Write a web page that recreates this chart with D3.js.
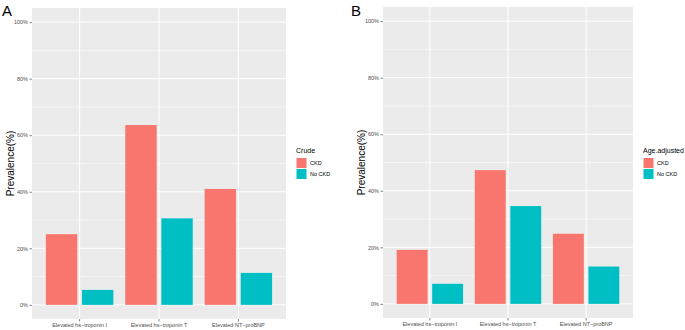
<!DOCTYPE html>
<html>
<head>
<meta charset="utf-8">
<script src="https://cdn.jsdelivr.net/npm/d3@7"></script>
<style>
  body { margin: 0; background: #fff; }
  svg { font-family: "Liberation Sans", Arial, sans-serif; }
</style>
</head>
<body>
<svg id="chart" width="685" height="330"></svg>
<script>
const categories = ['Elevated hs\u2212troponin I', 'Elevated hs\u2212troponin T', 'Elevated NT\u2212proBNP'];
const groups = ['CKD', 'No CKD'];
const crudeCKD = [25.0, 63.6, 41.0];
const crudeNoCKD = [5.3, 30.6, 11.3];
const ageCKD = [19.1, 47.3, 24.8];
const ageNoCKD = [7.1, 34.6, 13.2];
const yTicks = [0, 20, 40, 60, 80, 100];
const yMinor = [10, 30, 50, 70, 90];
const colors = { 'CKD': '#F8766D', 'No CKD': '#00BFC4' };

const svg = d3.select('#chart');

function panel(opt) {
  const g = svg.append('g');
  const data = [];
  categories.forEach((c, i) => {
    data.push({ cat: c, grp: 'CKD', v: opt.ckd[i] });
    data.push({ cat: c, grp: 'No CKD', v: opt.noCkd[i] });
  });

  const x = d3.scaleBand().domain(categories)
    .range([opt.left, opt.right]).paddingInner(0.15).paddingOuter(0.175);
  const xSub = d3.scaleBand().domain(groups)
    .range([0, x.bandwidth()]).paddingInner(0.13);
  const y = d3.scaleLinear().domain([-5, 105]).range([opt.bottom, opt.top]);

  // panel background
  g.append('rect')
    .attr('x', opt.left).attr('y', opt.top)
    .attr('width', opt.right - opt.left).attr('height', opt.bottom - opt.top)
    .attr('fill', '#EBEBEB');

  g.selectAll('.minor').data(yMinor).enter().append('line')
    .attr('x1', opt.left).attr('x2', opt.right)
    .attr('y1', d => y(d)).attr('y2', d => y(d))
    .attr('stroke', '#fff').attr('stroke-width', 0.5);
  g.selectAll('.major').data(yTicks).enter().append('line')
    .attr('x1', opt.left).attr('x2', opt.right)
    .attr('y1', d => y(d)).attr('y2', d => y(d))
    .attr('stroke', '#fff').attr('stroke-width', 1);
  g.selectAll('.vgrid').data(categories).enter().append('line')
    .attr('y1', opt.top).attr('y2', opt.bottom)
    .attr('x1', d => x(d) + x.bandwidth() / 2).attr('x2', d => x(d) + x.bandwidth() / 2)
    .attr('stroke', '#fff').attr('stroke-width', 1);

  g.selectAll('.bar').data(data).enter().append('rect')
    .attr('x', d => x(d.cat) + xSub(d.grp))
    .attr('width', xSub.bandwidth())
    .attr('y', d => y(d.v))
    .attr('height', d => y(0) - y(d.v))
    .attr('fill', d => colors[d.grp]);

  // axes
  const yAxis = d3.axisLeft(y).tickValues(yTicks).tickSize(2.5).tickPadding(1.5)
    .tickFormat(d => d + '%');
  const ya = g.append('g').attr('transform', `translate(${opt.left},0)`).call(yAxis);
  ya.select('.domain').remove();
  ya.selectAll('line').attr('stroke', '#333').attr('stroke-width', 0.6);
  ya.selectAll('text').attr('fill', '#4D4D4D').style('font-size', '5.5px');

  const xAxis = d3.axisBottom(x).tickSize(2.5).tickPadding(1.5);
  const xa = g.append('g').attr('transform', `translate(0,${opt.bottom})`).call(xAxis);
  xa.select('.domain').remove();
  xa.selectAll('line').attr('stroke', '#333').attr('stroke-width', 0.6);
  xa.selectAll('text').attr('fill', '#4D4D4D').style('font-size', '5.5px');

  // y title
  g.append('text')
    .attr('transform', `translate(${opt.titleX},${(opt.top + opt.bottom) / 2}) rotate(-90)`)
    .attr('text-anchor', 'middle')
    .attr('dy', '0.35em')
    .style('font-size', '10px')
    .attr('fill', '#000')
    .text('Prevalence(%)');

  // panel letter
  g.append('text')
    .attr('x', opt.letterX).attr('y', 16)
    .style('font-size', '15px')
    .text(opt.letter);

  // legend
  const lg = g.append('g').attr('transform', `translate(${opt.legendX},${opt.legendY})`);
  lg.append('text').attr('x', 0).attr('y', 0)
    .style('font-size', '7px').text(opt.legendTitle);
  groups.forEach((gr, i) => {
    lg.append('rect')
      .attr('x', 0.5).attr('y', 5 + i * 11)
      .attr('width', 10).attr('height', 10)
      .attr('fill', colors[gr]);
    lg.append('text')
      .attr('x', 14).attr('y', 10 + i * 11)
      .attr('dy', '0.35em')
      .style('font-size', '5.5px')
      .text(gr);
  });
}

panel({
  letter: 'A', letterX: 2, titleX: 10,
  left: 32, right: 286, top: 8, bottom: 319,
  ckd: crudeCKD, noCkd: crudeNoCKD,
  legendTitle: 'Crude', legendX: 296, legendY: 153
});

panel({
  letter: 'B', letterX: 351, titleX: 361,
  left: 383, right: 633, top: 7, bottom: 318,
  ckd: ageCKD, noCkd: ageNoCKD,
  legendTitle: 'Age.adjusted', legendX: 643, legendY: 153
});
</script>
</body>
</html>
